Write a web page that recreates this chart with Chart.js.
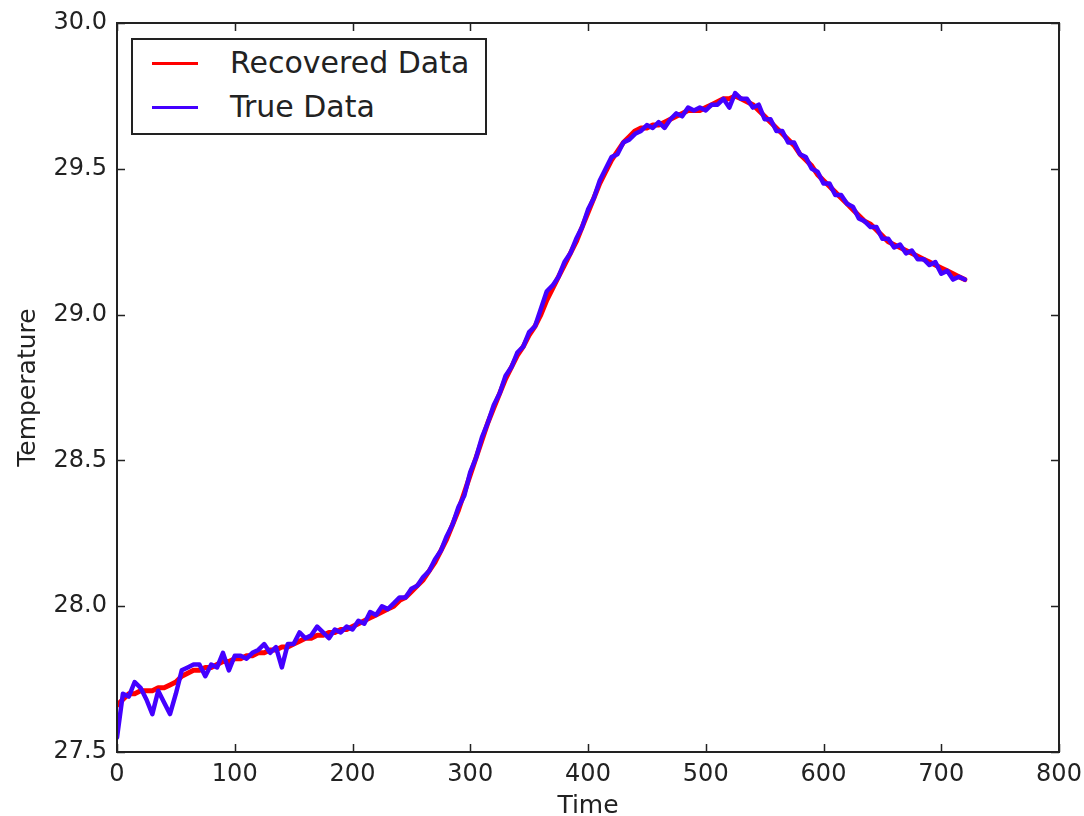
<!DOCTYPE html>
<html>
<head>
<meta charset="utf-8">
<script src="https://cdn.jsdelivr.net/npm/chart.js@4/dist/chart.umd.min.js"></script>
<style>
  html, body { margin: 0; padding: 0; background: #fff; }
  #wrap { position: relative; width: 1084px; height: 816px; overflow: hidden; }
  #legend {
    position: absolute; left: 131px; top: 38px; width: 352px; height: 93px;
    border: 2px solid #222; background: #fff;
    font-family: "DejaVu Sans", sans-serif; font-size: 30px; color: #222;
  }
  .row { position: absolute; left: 0; height: 40px; width: 100%; }
  .row .ln { position: absolute; left: 19px; width: 46px; height: 3px; top: 19px; }
  .row .tx { position: absolute; left: 97px; top: 0; line-height: 40px; white-space: nowrap; }
</style>
</head>
<body>
<div id="wrap">
  <canvas id="c" width="1084" height="816"></canvas>
  <div id="legend"></div>
</div>
<script>
// ---- data ----
const times = [0,5,10,15,20,25,30,35,40,45,50,55,60,65,70,75,80,85,90,95,100,105,110,115,120,125,130,135,140,145,150,155,160,165,170,175,180,185,190,195,200,205,210,215,220,225,230,235,240,245,250,255,260,265,270,275,280,285,290,295,300,305,310,315,320,325,330,335,340,345,350,355,360,365,370,375,380,385,390,395,400,405,410,415,420,425,430,435,440,445,450,455,460,465,470,475,480,485,490,495,500,505,510,515,520,525,530,535,540,545,550,555,560,565,570,575,580,585,590,595,600,605,610,615,620,625,630,635,640,645,650,655,660,665,670,675,680,685,690,695,700,705,710,715,720];

const recoveredData = [27.66,27.68,27.70,27.70,27.71,27.71,27.71,27.72,27.72,27.73,27.74,27.76,27.77,27.78,27.78,27.79,27.79,27.80,27.81,27.81,27.82,27.82,27.83,27.83,27.84,27.84,27.85,27.85,27.86,27.86,27.87,27.88,27.89,27.89,27.90,27.90,27.91,27.91,27.92,27.92,27.93,27.94,27.95,27.96,27.97,27.98,27.99,28.00,28.02,28.03,28.05,28.07,28.09,28.12,28.15,28.19,28.23,28.28,28.33,28.39,28.45,28.51,28.57,28.63,28.68,28.73,28.78,28.82,28.86,28.89,28.93,28.96,29.00,29.05,29.09,29.13,29.17,29.21,29.25,29.30,29.35,29.40,29.45,29.49,29.53,29.56,29.59,29.61,29.63,29.64,29.64,29.65,29.65,29.66,29.67,29.68,29.69,29.70,29.70,29.70,29.71,29.72,29.73,29.74,29.74,29.75,29.74,29.73,29.72,29.70,29.68,29.66,29.64,29.62,29.60,29.58,29.55,29.53,29.51,29.48,29.46,29.44,29.42,29.40,29.38,29.36,29.34,29.32,29.31,29.29,29.27,29.25,29.24,29.23,29.22,29.21,29.20,29.19,29.18,29.17,29.16,29.15,29.14,29.13,29.12];

const trueData = [27.55,27.70,27.69,27.74,27.72,27.68,27.63,27.71,27.67,27.63,27.70,27.78,27.79,27.80,27.80,27.76,27.80,27.79,27.84,27.78,27.83,27.83,27.82,27.84,27.85,27.87,27.84,27.86,27.79,27.87,27.87,27.91,27.89,27.90,27.93,27.91,27.89,27.92,27.91,27.93,27.92,27.95,27.94,27.98,27.97,28.00,27.99,28.01,28.03,28.03,28.06,28.07,28.10,28.12,28.16,28.19,28.24,28.28,28.34,28.38,28.46,28.51,28.58,28.63,28.69,28.73,28.79,28.82,28.87,28.89,28.94,28.96,29.02,29.08,29.10,29.13,29.18,29.21,29.26,29.30,29.36,29.40,29.46,29.50,29.54,29.55,29.59,29.60,29.62,29.63,29.65,29.64,29.66,29.64,29.67,29.69,29.68,29.71,29.70,29.71,29.70,29.72,29.72,29.74,29.71,29.76,29.74,29.74,29.71,29.72,29.67,29.67,29.63,29.63,29.59,29.59,29.55,29.54,29.50,29.49,29.45,29.45,29.41,29.41,29.38,29.37,29.33,29.32,29.30,29.30,29.26,29.26,29.23,29.24,29.21,29.22,29.19,29.19,29.17,29.18,29.14,29.15,29.12,29.13,29.12];

const seriesNames = ["Recovered Data", "True Data"];
const seriesColors = ["#ff0000", "#4400ff"];
const xTicks = [0,100,200,300,400,500,600,700,800];
const yTicks = [27.5,28.0,28.5,29.0,29.5,30.0];
const xTitle = "Time";
const yTitle = "Temperature";

// ---- legend (HTML) ----
const legendEl = document.getElementById('legend');
seriesNames.forEach((name, i) => {
  const row = document.createElement('div');
  row.className = 'row';
  row.style.top = (3 + i * 44) + 'px';
  row.innerHTML = '<div class="ln" style="background:' + seriesColors[i] + '"></div><div class="tx">' + name + '</div>';
  legendEl.appendChild(row);
});

// ---- frame + inward ticks ----
const framePlugin = {
  id: 'frame',
  afterDatasetsDraw(chart) {
    const {ctx, chartArea: a, scales} = chart;
    ctx.save();
    ctx.strokeStyle = '#222';
    ctx.lineWidth = 1.5;
    const L = 8;
    ctx.beginPath();
    xTicks.forEach(v => {
      const px = Math.round(scales.x.getPixelForValue(v)) + 0.5;
      ctx.moveTo(px, a.bottom); ctx.lineTo(px, a.bottom - L);
      ctx.moveTo(px, a.top); ctx.lineTo(px, a.top + L);
    });
    yTicks.forEach(v => {
      const py = Math.round(scales.y.getPixelForValue(v)) + 0.5;
      ctx.moveTo(a.left, py); ctx.lineTo(a.left + L, py);
      ctx.moveTo(a.right, py); ctx.lineTo(a.right - L, py);
    });
    ctx.stroke();
    ctx.lineWidth = 2;
    ctx.strokeRect(a.left, a.top, a.right - a.left, a.bottom - a.top);
    ctx.restore();
  }
};

const mk = (vals) => times.map((t, i) => ({x: t, y: vals[i]}));

new Chart(document.getElementById('c'), {
  type: 'line',
  data: {
    datasets: [
      { label: seriesNames[0], data: mk(recoveredData), borderColor: seriesColors[0], borderWidth: 5, pointRadius: 0, tension: 0, order: 2, borderJoinStyle: 'round', borderCapStyle: 'round' },
      { label: seriesNames[1], data: mk(trueData), borderColor: seriesColors[1], borderWidth: 4.5, pointRadius: 0, tension: 0, order: 1, borderJoinStyle: 'round', borderCapStyle: 'round' }
    ]
  },
  options: {
    responsive: false,
    animation: false,
    events: [],
    layout: { padding: { top: 23, right: 25, left: 0, bottom: 0 } },
    plugins: { legend: { display: false }, tooltip: { enabled: false } },
    scales: {
      x: {
        type: 'linear', min: 0, max: 800,
        afterBuildTicks: (s) => { s.ticks = xTicks.map(v => ({value: v})); },
        afterFit: (s) => { s.height = 64; s.paddingLeft = 0; s.paddingRight = 0; },
        grid: { display: false, drawTicks: false },
        border: { display: false },
        ticks: { padding: 8, color: '#222', font: { family: 'DejaVu Sans', size: 24 }, maxRotation: 0, callback: (v) => String(v) },
        title: { display: true, text: xTitle, color: '#222', font: { family: 'DejaVu Sans', size: 25 }, padding: { top: 0, bottom: -5 } }
      },
      y: {
        type: 'linear', min: 27.5, max: 30.0,
        afterBuildTicks: (s) => { s.ticks = yTicks.map(v => ({value: v})); },
        afterFit: (s) => { s.width = 117; s.paddingTop = 0; s.paddingBottom = 0; },
        grid: { display: false, drawTicks: false },
        border: { display: false },
        ticks: { padding: 10, color: '#222', font: { family: 'DejaVu Sans', size: 24 }, callback: (v) => Number(v).toFixed(1) },
        title: { display: true, text: yTitle, color: '#222', font: { family: 'DejaVu Sans', size: 25 }, padding: { top: 13, bottom: 0 } }
      }
    }
  },
  plugins: [framePlugin]
});
</script>
</body>
</html>
